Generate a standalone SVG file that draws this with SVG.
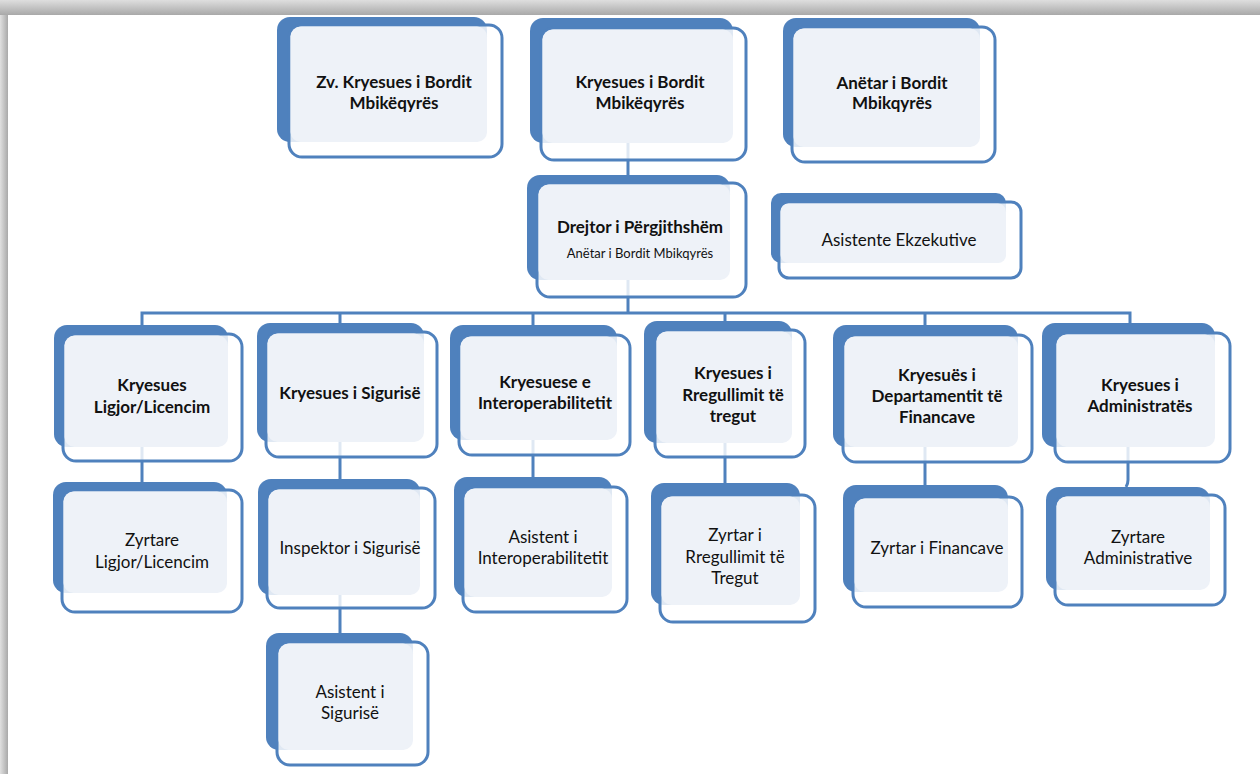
<svg xmlns="http://www.w3.org/2000/svg" width="1260" height="774" viewBox="0 0 1260 774">
<style>
.bk{fill:#4F81BD}
.fr{fill:#fff;fill-opacity:0.82;stroke:#4F81BD;stroke-width:3}
.in{fill:#EEF2F8}
.t{font-family:Lato,"Liberation Sans",sans-serif;font-size:17px;fill:#111;text-anchor:middle}
.b{font-weight:bold}
.s{font-size:13px}
.c{fill:none;stroke:#4F81BD;stroke-width:3}
</style>
<defs>
<linearGradient id="tg" x1="0" y1="0" x2="0" y2="1"><stop offset="0" stop-color="#dedede"/><stop offset="1" stop-color="#a9a9a9"/></linearGradient>
<linearGradient id="lg" x1="0" y1="0" x2="1" y2="0"><stop offset="0" stop-color="#e0e0e0"/><stop offset="1" stop-color="#a9a9a9"/></linearGradient>
</defs>
<rect x="0" y="0" width="1260" height="774" fill="#fff"/>
<rect x="0" y="0" width="1260" height="15" fill="url(#tg)"/>
<rect x="0" y="15" width="8" height="759" fill="url(#lg)"/>

<g id="connectors" class="c">
<path d="M628,143 V175"/>
<path d="M628,280 V313"/>
<path d="M142,325 V313 H1130 V323"/>
<path d="M340,313 V323"/>
<path d="M533,313 V325"/>
<path d="M725,313 V321"/>
<path d="M925,313 V325"/>
<path d="M142,447 V482"/>
<path d="M340,442 V479"/>
<path d="M533,440 V477"/>
<path d="M725,443 V483"/>
<path d="M925,447 V485"/>
<path d="M1128,447 V480 Q1128,484 1126,487"/>
<path d="M340,595 V633"/>
</g>

<g id="n1">
<rect class="bk" x="277" y="17" width="210" height="125" rx="13"/>
<rect class="fr" x="289" y="25" width="213" height="132" rx="13"/>
<rect class="in" x="290.5" y="26.5" width="196.5" height="115.5" rx="10"/>
<text class="t b" x="394" y="88">Zv. Kryesues i Bordit</text>
<text class="t b" x="394" y="109">Mbikëqyrës</text>
</g>

<g id="n2">
<rect class="bk" x="530" y="18" width="203" height="125" rx="13"/>
<rect class="fr" x="541" y="28" width="205" height="132" rx="13"/>
<rect class="in" x="542.5" y="29.5" width="190.5" height="113.5" rx="10"/>
<text class="t b" x="640" y="88">Kryesues i Bordit</text>
<text class="t b" x="640" y="109">Mbikëqyrës</text>
</g>

<g id="n3">
<rect class="bk" x="783" y="18" width="197" height="129" rx="13"/>
<rect class="fr" x="792" y="27" width="203" height="135" rx="13"/>
<rect class="in" x="793.5" y="28.5" width="186.5" height="118.5" rx="10"/>
<text class="t b" x="892" y="89">Anëtar i Bordit</text>
<text class="t b" x="892" y="109">Mbikqyrës</text>
</g>

<g id="n4">
<rect class="bk" x="527" y="175" width="203" height="105" rx="13"/>
<rect class="fr" x="537" y="183" width="209" height="114" rx="13"/>
<rect class="in" x="538.5" y="184.5" width="191.5" height="95.5" rx="10"/>
<text class="t b" x="640" y="233">Drejtor i Përgjithshëm</text>
<text class="t s" x="640" y="258">Anëtar i Bordit Mbikqyrës</text>
</g>

<g id="n5">
<rect class="bk" x="771" y="193" width="235" height="70" rx="10"/>
<rect class="fr" x="779" y="202" width="242" height="76" rx="10"/>
<rect class="in" x="780.5" y="203.5" width="225.5" height="59.5" rx="8"/>
<text class="t" x="899" y="246">Asistente Ekzekutive</text>
</g>

<g id="n6">
<rect class="bk" x="54" y="325" width="174" height="122" rx="13"/>
<rect class="fr" x="63" y="334" width="179" height="127" rx="13"/>
<rect class="in" x="64.5" y="335.5" width="163.5" height="111.5" rx="10"/>
<text class="t b" x="152" y="391">Kryesues</text>
<text class="t b" x="152" y="413">Ligjor/Licencim</text>
</g>

<g id="n7">
<rect class="bk" x="257" y="323" width="167" height="119" rx="13"/>
<rect class="fr" x="266" y="332" width="171" height="125" rx="13"/>
<rect class="in" x="267.5" y="333.5" width="156.5" height="108.5" rx="10"/>
<text class="t b" x="350" y="399">Kryesues i Sigurisë</text>
</g>

<g id="n8">
<rect class="bk" x="450" y="325" width="167" height="115" rx="13"/>
<rect class="fr" x="459" y="335" width="171" height="120" rx="13"/>
<rect class="in" x="460.5" y="336.5" width="156.5" height="103.5" rx="10"/>
<text class="t b" x="545" y="388">Kryesuese e</text>
<text class="t b" x="545" y="409">Interoperabilitetit</text>
</g>

<g id="n9">
<rect class="bk" x="644" y="321" width="148" height="122" rx="13"/>
<rect class="fr" x="655" y="330" width="150" height="127" rx="13"/>
<rect class="in" x="656.5" y="331.5" width="135.5" height="111.5" rx="10"/>
<text class="t b" x="733" y="379">Kryesues i</text>
<text class="t b" x="733" y="401">Rregullimit të</text>
<text class="t b" x="733" y="422">tregut</text>
</g>

<g id="n10">
<rect class="bk" x="833" y="325" width="185" height="122" rx="13"/>
<rect class="fr" x="843" y="335" width="189" height="127" rx="13"/>
<rect class="in" x="844.5" y="336.5" width="173.5" height="110.5" rx="10"/>
<text class="t b" x="937" y="381">Kryesuës i</text>
<text class="t b" x="937" y="402">Departamentit të</text>
<text class="t b" x="937" y="423">Financave</text>
</g>

<g id="n11">
<rect class="bk" x="1042" y="323" width="173" height="124" rx="13"/>
<rect class="fr" x="1055" y="333" width="175" height="129" rx="13"/>
<rect class="in" x="1056.5" y="334.5" width="158.5" height="112.5" rx="10"/>
<text class="t b" x="1140" y="391">Kryesues i</text>
<text class="t b" x="1140" y="412">Administratës</text>
</g>

<g id="n12">
<rect class="bk" x="53" y="482" width="174" height="111" rx="13"/>
<rect class="fr" x="62" y="490" width="180" height="122" rx="13"/>
<rect class="in" x="63.5" y="491.5" width="163.5" height="101.5" rx="10"/>
<text class="t" x="152" y="546">Zyrtare</text>
<text class="t" x="152" y="568">Ligjor/Licencim</text>
</g>

<g id="n13">
<rect class="bk" x="258" y="479" width="162" height="116" rx="13"/>
<rect class="fr" x="267" y="488" width="168" height="120" rx="13"/>
<rect class="in" x="268.5" y="489.5" width="151.5" height="105.5" rx="10"/>
<text class="t" x="350" y="554">Inspektor i Sigurisë</text>
</g>

<g id="n14">
<rect class="bk" x="454" y="477" width="158" height="120" rx="13"/>
<rect class="fr" x="463" y="487" width="164" height="125" rx="13"/>
<rect class="in" x="464.5" y="488.5" width="147.5" height="108.5" rx="10"/>
<text class="t" x="543" y="543">Asistent i</text>
<text class="t" x="543" y="564">Interoperabilitetit</text>
</g>

<g id="n15">
<rect class="bk" x="266" y="633" width="147" height="117" rx="13"/>
<rect class="fr" x="277" y="642" width="151" height="123" rx="13"/>
<rect class="in" x="278.5" y="643.5" width="134.5" height="106.5" rx="10"/>
<text class="t" x="350" y="698">Asistent i</text>
<text class="t" x="350" y="719">Sigurisë</text>
</g>

<g id="n16">
<rect class="bk" x="651" y="483" width="149" height="122" rx="13"/>
<rect class="fr" x="660" y="495" width="155" height="127" rx="13"/>
<rect class="in" x="661.5" y="496.5" width="138.5" height="108.5" rx="10"/>
<text class="t" x="735" y="541">Zyrtar i</text>
<text class="t" x="735" y="563">Rregullimit të</text>
<text class="t" x="735" y="584">Tregut</text>
</g>

<g id="n17">
<rect class="bk" x="843" y="485" width="165" height="107" rx="13"/>
<rect class="fr" x="853" y="497" width="169" height="110" rx="13"/>
<rect class="in" x="854.5" y="498.5" width="153.5" height="93.5" rx="10"/>
<text class="t" x="937" y="554">Zyrtar i Financave</text>
</g>

<g id="n18">
<rect class="bk" x="1046" y="487" width="164" height="103" rx="13"/>
<rect class="fr" x="1055" y="495" width="170" height="110" rx="13"/>
<rect class="in" x="1056.5" y="496.5" width="153.5" height="93.5" rx="10"/>
<text class="t" x="1138" y="543">Zyrtare</text>
<text class="t" x="1138" y="564">Administrative</text>
</g>
</svg>
